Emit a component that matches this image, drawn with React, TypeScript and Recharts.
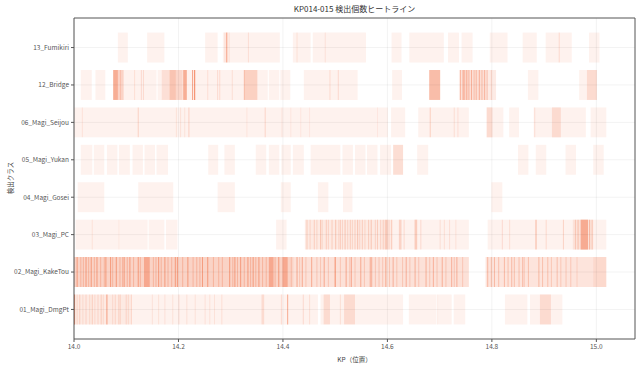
import React from 'react';
import { ComposedChart, XAxis, YAxis, Scatter, ReferenceArea, ReferenceLine } from 'recharts';

const classes = [
  '01_Magi_DmgPt',
  '02_Magi_KakeTou',
  '03_Magi_PC',
  '04_Magi_Gosei',
  '05_Magi_Yukan',
  '06_Magi_Seijou',
  '12_Bridge',
  '13_Fumikiri',
];
const rowTicks = [0, 1, 2, 3, 4, 5, 6, 7];
const xTicks = [14.0, 14.2, 14.4, 14.6, 14.8, 15.0];

const HEAT = '#f05a28';
const LINE_W = 0.002;

// spans: [kpStart, kpEnd, strength]   lines: [kp, strength]
const dmgptSpans = [
  [14.000, 14.467, 0.08], [14.000, 14.110, 0.05], [14.359, 14.364, 0.15],
  [14.472, 14.630, 0.08], [14.478, 14.490, 0.15], [14.517, 14.538, 0.15],
  [14.641, 14.694, 0.08], [14.697, 14.723, 0.08], [14.727, 14.749, 0.08],
  [14.825, 14.868, 0.08], [14.873, 14.935, 0.08], [14.892, 14.913, 0.15],
];
const dmgptLines = [
  [14.001, 0.6], [14.006, 0.15], [14.011, 0.2], [14.017, 0.12], [14.023, 0.15], [14.030, 0.12],
  [14.035, 0.2], [14.040, 0.12], [14.046, 0.15], [14.052, 0.2], [14.056, 0.12], [14.063, 0.5],
  [14.074, 0.12], [14.079, 0.15], [14.086, 0.2], [14.089, 0.12], [14.100, 0.15], [14.104, 0.12],
  [14.110, 0.15], [14.150, 0.1], [14.162, 0.1], [14.174, 0.1], [14.189, 0.1], [14.201, 0.12],
  [14.216, 0.1], [14.232, 0.1], [14.251, 0.1], [14.260, 0.1], [14.269, 0.1], [14.283, 0.12],
  [14.397, 0.15], [14.409, 0.45], [14.439, 0.15], [14.451, 0.12], [14.510, 0.12], [14.696, 0.1],
];

const kaketouSpans = [
  [14.000, 14.756, 0.18], [14.000, 14.420, 0.1], [14.134, 14.145, 0.35], [14.373, 14.382, 0.35],
  [14.399, 14.409, 0.35], [14.566, 14.571, 0.3], [14.788, 15.019, 0.16], [14.994, 15.019, 0.08],
];
const kaketouLines = [
  [14.006, 0.45], [14.023, 0.45], [14.033, 0.45], [14.044, 0.45], [14.061, 0.45], [14.070, 0.45],
  [14.081, 0.45], [14.096, 0.45], [14.107, 0.45], [14.123, 0.45], [14.162, 0.45], [14.174, 0.45],
  [14.194, 0.45], [14.198, 0.45], [14.218, 0.45], [14.246, 0.45], [14.256, 0.45], [14.298, 0.45],
  [14.308, 0.45], [14.319, 0.45], [14.333, 0.45], [14.343, 0.45], [14.354, 0.45], [14.392, 0.45],
  [14.427, 0.4], [14.437, 0.4], [14.455, 0.4], [14.479, 0.4], [14.500, 0.6], [14.521, 0.4],
  [14.531, 0.4], [14.549, 0.4], [14.597, 0.4], [14.611, 0.35], [14.636, 0.35], [14.653, 0.35],
  [14.674, 0.35], [14.688, 0.35], [14.705, 0.35], [14.723, 0.35], [14.733, 0.35],
  [14.013, 0.25], [14.018, 0.25], [14.028, 0.25], [14.039, 0.25], [14.051, 0.25], [14.058, 0.25],
  [14.074, 0.25], [14.088, 0.25], [14.093, 0.25], [14.102, 0.25], [14.114, 0.25], [14.127, 0.25],
  [14.152, 0.25], [14.157, 0.25], [14.167, 0.25], [14.180, 0.25], [14.187, 0.25], [14.208, 0.25],
  [14.228, 0.25], [14.235, 0.25], [14.241, 0.25], [14.267, 0.25], [14.277, 0.25], [14.284, 0.25],
  [14.304, 0.25], [14.313, 0.25], [14.326, 0.25], [14.338, 0.25], [14.348, 0.25], [14.361, 0.25],
  [14.368, 0.25], [14.385, 0.25], [14.416, 0.2], [14.432, 0.2], [14.444, 0.2], [14.465, 0.2],
  [14.472, 0.2], [14.487, 0.2], [14.510, 0.2], [14.528, 0.2], [14.538, 0.2], [14.556, 0.2],
  [14.577, 0.2], [14.584, 0.2], [14.591, 0.2], [14.604, 0.2], [14.618, 0.2], [14.629, 0.2],
  [14.643, 0.2], [14.660, 0.2], [14.681, 0.2], [14.695, 0.2], [14.712, 0.2], [14.728, 0.2],
  [14.744, 0.2],
  [14.792, 0.3], [14.799, 0.25], [14.805, 0.3], [14.813, 0.25], [14.824, 0.3], [14.831, 0.25],
  [14.838, 0.3], [14.843, 0.25], [14.852, 0.25], [14.859, 0.3], [14.862, 0.2], [14.870, 0.25],
  [14.890, 0.3], [14.897, 0.25], [14.907, 0.25], [14.914, 0.2], [14.925, 0.25], [14.932, 0.2],
  [14.942, 0.2], [14.951, 0.2], [14.963, 0.15],
];

const pcSpans = [
  [14.003, 14.141, 0.08], [14.143, 14.173, 0.08], [14.176, 14.198, 0.08], [14.387, 14.407, 0.08],
  [14.442, 14.756, 0.08], [14.442, 14.610, 0.05], [14.622, 14.627, 0.2], [14.652, 14.657, 0.25],
  [14.792, 15.019, 0.08], [14.883, 14.886, 0.25], [14.955, 14.994, 0.1], [14.970, 14.984, 0.4],
];
const pcLines = [
  [14.035, 0.1], [14.086, 0.06],
  [14.446, 0.2], [14.452, 0.15], [14.460, 0.2], [14.465, 0.15], [14.472, 0.25], [14.475, 0.15],
  [14.483, 0.2], [14.487, 0.15], [14.494, 0.2], [14.501, 0.25], [14.507, 0.15], [14.510, 0.2],
  [14.514, 0.15], [14.519, 0.25], [14.524, 0.15], [14.529, 0.2], [14.533, 0.15], [14.538, 0.2],
  [14.543, 0.25], [14.547, 0.15], [14.552, 0.2], [14.557, 0.15], [14.564, 0.2], [14.569, 0.25],
  [14.577, 0.15], [14.581, 0.2], [14.587, 0.15], [14.592, 0.2], [14.596, 0.25], [14.599, 0.35],
  [14.603, 0.15], [14.608, 0.2], [14.632, 0.15], [14.664, 0.15], [14.701, 0.12], [14.709, 0.12],
  [14.719, 0.12], [14.731, 0.1],
  [14.820, 0.15], [14.834, 0.12], [14.904, 0.15], [14.937, 0.2], [14.960, 0.2], [14.965, 0.25],
  [14.987, 0.3], [14.992, 0.2],
];

const goseiSpans = [
  [14.007, 14.058, 0.08], [14.123, 14.190, 0.08], [14.275, 14.308, 0.08], [14.396, 14.415, 0.08],
  [14.467, 14.487, 0.08], [14.515, 14.533, 0.08], [14.799, 14.820, 0.08],
];
const goseiLines = [];

const yukanSpans = [
  [14.013, 14.035, 0.08], [14.038, 14.058, 0.08], [14.063, 14.083, 0.08], [14.086, 14.107, 0.08],
  [14.112, 14.132, 0.08], [14.135, 14.155, 0.08], [14.158, 14.180, 0.08], [14.257, 14.276, 0.08],
  [14.288, 14.308, 0.08], [14.348, 14.368, 0.08], [14.373, 14.393, 0.08], [14.397, 14.415, 0.08],
  [14.419, 14.440, 0.08], [14.453, 14.510, 0.08], [14.514, 14.534, 0.08], [14.538, 14.558, 0.08],
  [14.561, 14.581, 0.08], [14.586, 14.607, 0.08], [14.611, 14.630, 0.2], [14.657, 14.678, 0.08],
  [14.850, 14.870, 0.08], [14.884, 14.904, 0.08], [14.941, 14.961, 0.08], [14.994, 15.014, 0.08],
];
const yukanLines = [];

const seijouSpans = [
  [14.000, 14.601, 0.08], [14.607, 14.634, 0.08], [14.659, 14.756, 0.08], [14.790, 14.822, 0.08],
  [14.790, 14.801, 0.15], [14.833, 14.852, 0.08], [14.880, 14.980, 0.08], [14.915, 14.932, 0.15],
  [14.989, 15.019, 0.08],
];
const seijouLines = [
  [14.016, 0.1], [14.123, 0.2], [14.196, 0.1], [14.204, 0.1], [14.212, 0.1], [14.220, 0.2],
  [14.331, 0.08], [14.366, 0.18], [14.398, 0.07], [14.415, 0.07], [14.434, 0.07], [14.451, 0.07],
  [14.581, 0.07], [14.682, 0.22], [14.728, 0.12], [14.735, 0.12], [14.882, 0.12],
];

const bridgeSpans = [
  [14.013, 14.034, 0.08], [14.041, 14.060, 0.08], [14.075, 14.158, 0.08], [14.160, 14.371, 0.08],
  [14.373, 14.393, 0.08], [14.395, 14.414, 0.08], [14.075, 14.084, 0.45], [14.084, 14.095, 0.2],
  [14.168, 14.183, 0.12], [14.183, 14.195, 0.3], [14.195, 14.208, 0.18], [14.209, 14.216, 0.45],
  [14.326, 14.351, 0.22], [14.440, 14.543, 0.08], [14.609, 14.628, 0.08], [14.680, 14.701, 0.4],
  [14.737, 14.808, 0.12], [14.742, 14.792, 0.08], [14.869, 14.889, 0.08], [14.967, 15.001, 0.08],
  [14.982, 15.001, 0.15],
];
const bridgeLines = [
  [14.089, 0.15], [14.116, 0.12], [14.129, 0.15], [14.133, 0.15], [14.227, 0.5], [14.231, 0.7],
  [14.256, 0.12], [14.275, 0.15], [14.279, 0.15], [14.303, 0.12], [14.326, 0.25], [14.490, 0.15],
  [14.506, 0.15], [14.740, 0.35], [14.745, 0.45], [14.748, 0.3], [14.752, 0.4], [14.756, 0.3],
  [14.761, 0.35], [14.766, 0.25], [14.770, 0.3], [14.776, 0.35], [14.781, 0.25], [14.786, 0.3],
  [14.791, 0.2], [14.799, 0.15],
];

const fumikiriSpans = [
  [14.084, 14.103, 0.08], [14.140, 14.173, 0.08], [14.251, 14.275, 0.08], [14.285, 14.394, 0.08],
  [14.419, 14.453, 0.08], [14.457, 14.559, 0.08], [14.608, 14.627, 0.08], [14.642, 14.688, 0.08],
  [14.688, 14.708, 0.08], [14.716, 14.737, 0.08], [14.742, 14.763, 0.08], [14.796, 14.830, 0.08],
  [14.859, 14.886, 0.08], [14.903, 14.953, 0.08], [14.986, 15.006, 0.08],
];
const fumikiriLines = [
  [14.2925, 0.55], [14.289, 0.15], [14.297, 0.12], [14.334, 0.12], [14.427, 0.1], [14.481, 0.1],
  [14.929, 0.15],
];

const rows = [
  { spans: dmgptSpans, lines: dmgptLines },
  { spans: kaketouSpans, lines: kaketouLines },
  { spans: pcSpans, lines: pcLines },
  { spans: goseiSpans, lines: goseiLines },
  { spans: yukanSpans, lines: yukanLines },
  { spans: seijouSpans, lines: seijouLines },
  { spans: bridgeSpans, lines: bridgeLines },
  { spans: fumikiriSpans, lines: fumikiriLines },
];

const cells = rows.flatMap((r, i) => [
  ...r.spans.map(([a, b, s]) => ({ row: i, x1: a, x2: b, s })),
  ...r.lines.map(([x, s]) => ({ row: i, x1: x - LINE_W / 2, x2: x + LINE_W / 2, s })),
]);

// anchor points so the axes get a data extent (not drawn)
const anchors = cells.map((c) => ({ x: c.x1, y: c.row }));

const FONT = '"Noto Sans CJK JP", "Noto Sans", sans-serif';
const xDomain = [14.0, 15.074];
const yDomain = [-0.79, 7.79];

export default function App() {
  return (
    <div style={{ position: 'absolute', left: 0, top: 0, width: 640, height: 365, background: '#fff', fontFamily: FONT }}>
      <div style={{ position: 'absolute', left: 74, top: 3, width: 561, textAlign: 'center', fontSize: 8, color: '#333' }}>
        KP014-015 検出個数ヒートライン
      </div>
      <div style={{ position: 'absolute', left: 10, top: 178, transform: 'translate(-50%, -50%) rotate(-90deg)', fontSize: 6.5, color: '#444', whiteSpace: 'nowrap' }}>
        検出クラス
      </div>
      <ComposedChart width={640} height={365} margin={{ top: 18, right: 5, bottom: 0, left: 0 }} style={{ fontFamily: FONT }}>
        <XAxis
          dataKey="x"
          type="number"
          domain={xDomain}
          allowDataOverflow
          ticks={xTicks}
          tickFormatter={(v) => Number(v).toFixed(1)}
          height={26}
          tickSize={3}
          tick={{ fontSize: 6.5, fill: '#555' }}
          stroke="#555"
          label={{ value: 'KP（位置）', position: 'insideBottom', offset: 3, fontSize: 6.5, fill: '#444' }}
        />
        <YAxis
          dataKey="y"
          type="number"
          domain={yDomain}
          allowDataOverflow
          ticks={rowTicks}
          tickFormatter={(v) => classes[v]}
          width={74}
          tickSize={3}
          tick={{ fontSize: 6.5, fill: '#555' }}
          stroke="#555"
        />
        <Scatter data={anchors} dataKey="y" isAnimationActive={false} shape={() => <g />} />
        {cells.map((c, i) => (
          <ReferenceArea
            key={`c-${i}`}
            x1={c.x1}
            x2={c.x2}
            y1={c.row - 0.4}
            y2={c.row + 0.4}
            fill={HEAT}
            fillOpacity={c.s}
            stroke="none"
          />
        ))}
        {xTicks.map((t) => (
          <ReferenceLine key={`gx-${t}`} x={t} stroke="#000" strokeOpacity={0.05} />
        ))}
        {rowTicks.map((t) => (
          <ReferenceLine key={`gy-${t}`} y={t} stroke="#000" strokeOpacity={0.05} />
        ))}
        <ReferenceLine x={xDomain[1]} stroke="#555" />
        <ReferenceLine y={yDomain[1]} stroke="#555" />
      </ComposedChart>
    </div>
  );
}
